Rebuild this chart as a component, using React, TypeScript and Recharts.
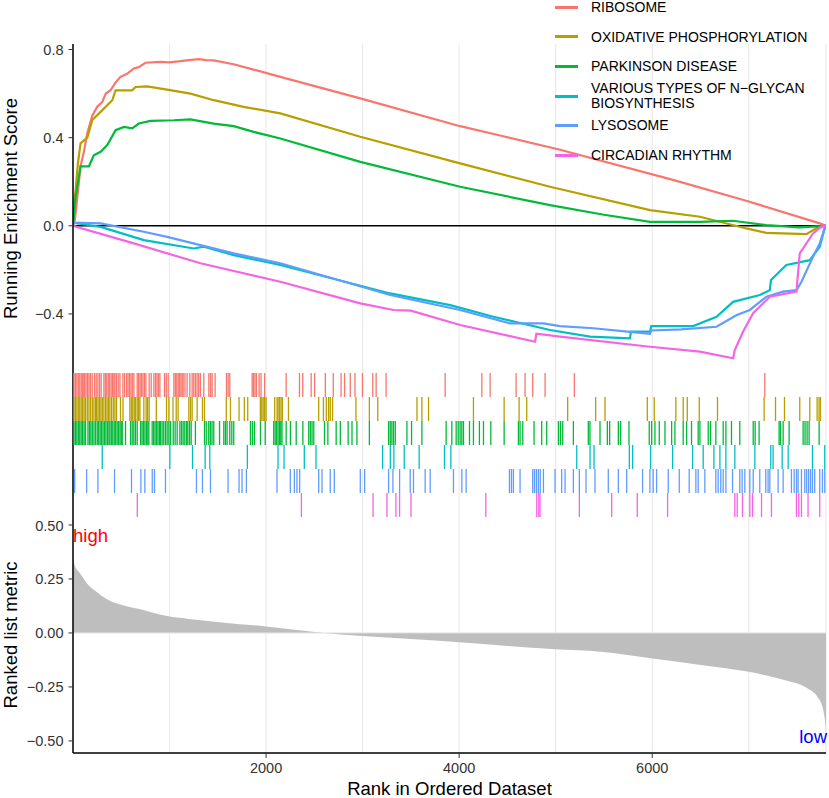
import React from 'react';
import {
  LineChart, Line, ScatterChart, Scatter, AreaChart, Area,
  XAxis, YAxis, CartesianGrid, ReferenceLine,
} from 'recharts';

const FONT = 'Liberation Sans, Arial, Helvetica, sans-serif';
const MINUS = '\u2212';

const pathways = [
  'RIBOSOME',
  'OXIDATIVE PHOSPHORYLATION',
  'PARKINSON DISEASE',
  `VARIOUS TYPES OF N${MINUS}GLYCAN\nBIOSYNTHESIS`,
  'LYSOSOME',
  'CIRCADIAN RHYTHM',
];
const colors = ['#F8766D', '#B79F00', '#00BA38', '#00BFC4', '#619CFF', '#F564E3'];

const gridRanks = [1000, 2000, 3000, 4000, 5000, 6000, 7000];
const rankTicks = [2000, 4000, 6000];
const esTicks = [-0.4, 0, 0.4, 0.8];
const metricTicks = [-0.5, -0.25, 0, 0.25, 0.5];

// running enrichment score, [rank, ES]
const ribosomeES = [
  [0, 0], [20, 0.03], [50, 0.15], [78, 0.27], [110, 0.33], [148, 0.42], [200, 0.5], [251, 0.54],
  [300, 0.56], [340, 0.6], [389, 0.615], [440, 0.65], [492, 0.676], [560, 0.69], [630, 0.714],
  [680, 0.72], [751, 0.74], [906, 0.744], [1000, 0.742], [1113, 0.747], [1200, 0.752], [1303, 0.756],
  [1380, 0.752], [1458, 0.751], [1664, 0.733], [1870, 0.709], [2148, 0.676], [2976, 0.578],
  [4010, 0.452], [4424, 0.41], [5045, 0.345], [6224, 0.207], [7000, 0.11], [7735, 0.011], [7800, 0],
];
const oxphosES = [
  [0, 0], [8, 0.1], [27, 0.16], [50, 0.28], [78, 0.374], [148, 0.4], [200, 0.48], [286, 0.517],
  [407, 0.57], [441, 0.615], [613, 0.615], [648, 0.63], [768, 0.633], [975, 0.618], [1217, 0.6],
  [1458, 0.57], [1768, 0.54], [2148, 0.51], [2976, 0.404], [4010, 0.283], [4941, 0.177],
  [5977, 0.071], [6494, 0.041], [6976, -0.012], [7183, -0.032], [7597, -0.038], [7717, -0.007], [7800, 0],
];
const parkinsonES = [
  [0, 0], [27, 0.13], [78, 0.27], [165, 0.27], [216, 0.32], [286, 0.336], [355, 0.366], [441, 0.434],
  [527, 0.449], [613, 0.442], [682, 0.464], [803, 0.476], [1044, 0.479], [1217, 0.483], [1458, 0.464],
  [1665, 0.452], [1872, 0.426], [2148, 0.396], [2976, 0.29], [4010, 0.177], [4941, 0.094],
  [5500, 0.05], [5977, 0.018], [6494, 0.018], [6835, 0.023], [7183, 0.003], [7528, -0.007], [7800, 0],
];
const nglycanES = [
  [0, 0.014], [286, -0.005], [734, -0.065], [1251, -0.103], [1355, -0.095], [1665, -0.133],
  [2148, -0.178], [3286, -0.307], [3907, -0.36], [4355, -0.413], [4941, -0.473], [5355, -0.503],
  [5769, -0.511], [5780, -0.48], [5977, -0.48], [5990, -0.455], [6424, -0.455], [6666, -0.413],
  [6838, -0.345], [7114, -0.314], [7218, -0.292], [7230, -0.246], [7390, -0.178], [7632, -0.156],
  [7735, -0.095], [7790, -0.005], [7800, 0],
];
const lysosomeES = [
  [0, 0.014], [286, 0.011], [734, -0.027], [976, -0.05], [1320, -0.088], [1665, -0.125],
  [2148, -0.17], [3286, -0.314], [4010, -0.382], [4528, -0.443], [4873, -0.443], [5045, -0.455],
  [5390, -0.465], [5769, -0.481], [5977, -0.49], [5990, -0.475], [6300, -0.47], [6666, -0.458],
  [6876, -0.405], [7011, -0.382], [7183, -0.322], [7355, -0.299], [7494, -0.292], [7546, -0.254],
  [7666, -0.14], [7735, -0.08], [7780, -0.02], [7800, 0],
];
const circadianES = [
  [0, 0], [630, -0.08], [1320, -0.17], [2148, -0.254], [2976, -0.352], [3320, -0.382], [3500, -0.385],
  [4010, -0.45], [4786, -0.526], [4800, -0.49], [5045, -0.503], [5977, -0.549], [6494, -0.571],
  [6838, -0.601], [6855, -0.564], [6942, -0.48], [7045, -0.397], [7218, -0.322], [7494, -0.299],
  [7528, -0.125], [7666, -0.035], [7760, 0], [7800, 0],
];
const runningES = [ribosomeES, oxphosES, parkinsonES, nglycanES, lysosomeES, circadianES];

// gene-set hit positions (rank)
const ribosomeHits = [10, 25, 40, 55, 70, 85, 96, 106, 120, 135, 150, 165, 180, 199, 223, 240, 258, 275, 292, 320, 335, 350, 365, 380, 395, 410, 424, 434, 450, 468, 486, 517, 534, 555, 570, 585, 600, 615, 631, 665, 680, 695, 710, 725, 740, 755, 789, 810, 838, 855, 870, 885, 900, 948, 966, 986, 1045, 1060, 1075, 1090, 1105, 1118, 1131, 1141, 1160, 1182, 1210, 1234, 1251, 1268, 1285, 1302, 1320, 1355, 1407, 1425, 1441, 1472, 1590, 1607, 1624, 1856, 1870, 1885, 1900, 1928, 1948, 1985, 2208, 2346, 2380, 2467, 2503, 2614, 2696, 2777, 2813, 2872, 2921, 2998, 3105, 3140, 3243, 3855, 4235, 4321, 4590, 4683, 4762, 4890, 5193, 7166];
const oxphosHits = [10, 25, 40, 55, 70, 85, 100, 115, 130, 148, 165, 182, 200, 217, 234, 244, 259, 274, 289, 304, 320, 337, 352, 367, 382, 399, 417, 434, 451, 492, 518, 589, 604, 619, 634, 648, 665, 680, 693, 734, 758, 773, 789, 863, 969, 993, 1036, 1069, 1089, 1200, 1217, 1234, 1286, 1341, 1362, 1588, 1631, 1720, 1775, 1810, 1941, 1955, 1970, 1985, 2000, 2089, 2114, 2124, 2140, 2155, 2169, 2232, 2545, 2594, 2624, 2648, 2665, 2689, 2931, 3070, 3157, 3563, 3614, 3683, 4148, 4466, 4621, 4700, 5124, 5414, 5511, 5949, 6021, 6245, 6321, 6363, 6487, 6676, 7159, 7277, 7370, 7528, 7632, 7708, 7728, 7742];
const parkinsonHits = [10, 25, 40, 55, 70, 85, 100, 115, 130, 155, 170, 185, 200, 217, 234, 251, 266, 281, 296, 311, 326, 341, 356, 372, 382, 397, 412, 427, 442, 457, 472, 487, 500, 510, 544, 596, 613, 630, 647, 665, 700, 715, 730, 745, 760, 775, 786, 820, 835, 850, 865, 880, 895, 906, 923, 940, 958, 975, 993, 1010, 1038, 1058, 1079, 1107, 1124, 1141, 1158, 1176, 1189, 1207, 1224, 1268, 1362, 1380, 1406, 1423, 1440, 1458, 1518, 1562, 1579, 1596, 1624, 1645, 1665, 1838, 1858, 1879, 1942, 1991, 2079, 2094, 2109, 2124, 2139, 2152, 2165, 2208, 2252, 2312, 2381, 2442, 2459, 2476, 2494, 2605, 2640, 2726, 2769, 2850, 2890, 2941, 3070, 3269, 3286, 3303, 3320, 3338, 3459, 3507, 3614, 3865, 3924, 3969, 3990, 4010, 4028, 4045, 4107, 4148, 4210, 4252, 4328, 4466, 4614, 4631, 4659, 4776, 4855, 4907, 5028, 5050, 5073, 5183, 5338, 5355, 5459, 5535, 5559, 5649, 5673, 5759, 5969, 5994, 6028, 6073, 6132, 6201, 6235, 6321, 6356, 6407, 6476, 6494, 6580, 6604, 6659, 6735, 6763, 6821, 6907, 7046, 7066, 7107, 7314, 7328, 7356, 7418, 7563, 7583, 7604, 7625, 7729];
const nglycanHits = [303, 1003, 1238, 1369, 1417, 1806, 2124, 2186, 2396, 2517, 3207, 3287, 3324, 3431, 3586, 3848, 3914, 5218, 5356, 5397, 5763, 5797, 5983, 6211, 6418, 6528, 6639, 6701, 6763, 6856, 7063, 7228, 7252, 7346, 7408, 7660, 7787];
const lysosomeHits = [17, 141, 258, 430, 606, 703, 744, 821, 844, 958, 1279, 1341, 1424, 1606, 1720, 1751, 1796, 2113, 2251, 2293, 2320, 2348, 2545, 2579, 2665, 2707, 2976, 3021, 3269, 3314, 3383, 3493, 3527, 3648, 3700, 3941, 4028, 4072, 4521, 4542, 4562, 4631, 4762, 4780, 4800, 4820, 4840, 4873, 4993, 5062, 5097, 5183, 5245, 5314, 5407, 5545, 5649, 5735, 5900, 5976, 6010, 6045, 6166, 6280, 6383, 6452, 6476, 6545, 6659, 6683, 6710, 6735, 6763, 6832, 6907, 6931, 6959, 7011, 7046, 7114, 7176, 7200, 7218, 7304, 7356, 7442, 7470, 7494, 7511, 7546, 7580, 7600, 7620, 7640, 7660, 7683, 7735, 7763, 7787];
const circadianHits = [666, 2366, 3108, 3252, 3345, 3383, 3501, 4276, 4804, 4825, 4838, 5245, 5580, 5845, 6159, 6856, 6880, 6935, 7011, 7039, 7132, 7235, 7494, 7518, 7546, 7614, 7735];
const hits = [ribosomeHits, oxphosHits, parkinsonHits, nglycanHits, lysosomeHits, circadianHits];

// ranked list metric, [rank, value]
const rankedMetric = [
  [0, 0.34], [20, 0.31], [71, 0.278], [154, 0.224], [236, 0.193], [346, 0.157], [450, 0.137],
  [565, 0.123], [675, 0.112], [800, 0.097], [1000, 0.076], [1200, 0.065], [1443, 0.053], [1700, 0.042],
  [2000, 0.03], [2320, 0.014], [2600, 0], [3000, -0.014], [3500, -0.028], [4000, -0.043], [4500, -0.06],
  [5000, -0.076], [5466, -0.087], [5984, -0.117], [6502, -0.148], [6985, -0.179], [7365, -0.218],
  [7606, -0.256], [7710, -0.295], [7762, -0.341], [7785, -0.39], [7796, -0.434], [7800, -0.495],
];

const X_DOMAIN = [0, 7800];
const W = 829;

const fmt = (d: number) => (v: number) => {
  const s = Math.abs(v).toFixed(d);
  return v < 0 ? MINUS + s : s;
};

const tickStyle = { fill: '#333', fontSize: 14.5, fontFamily: FONT };
const titleStyle = { textAnchor: 'middle' as const, fontSize: 18.5, fill: '#000', fontFamily: FONT };
const axisLine = { stroke: '#000', strokeWidth: 1.5 };
const gridStroke = '#EBEBEB';

const esSeries = runningES.map(pts => pts.map(([rank, es]) => ({ rank, es })));
const rugSeries = hits.map((h, i) => h.map(rank => ({ rank, row: 5.5 - i })));
const metricData = rankedMetric.map(([rank, value]) => ({ rank, value }));

const RugTick = (color: string) => (props: any) => (
  <line x1={props.cx} x2={props.cx} y1={props.cy - 12} y2={props.cy + 12} stroke={color} strokeWidth={1.3} />
);

// invisible tick so the axis still hands its ticks to the grid
const NoTick = () => <g />;

export default function App() {
  return (
    <div style={{ position: 'absolute', left: 0, top: 0, width: W, height: 798, fontFamily: FONT, background: '#fff' }}>
      <div style={{ position: 'absolute', left: 0, top: 0 }}>
        <LineChart width={W} height={373} margin={{ top: 44, right: 3, bottom: 0, left: 0 }}>
          <CartesianGrid horizontal={false} stroke={gridStroke} strokeWidth={1.2} />
          <XAxis type="number" dataKey="rank" domain={X_DOMAIN} ticks={gridRanks} interval={0} height={0}
            tick={NoTick} tickLine={false} axisLine={false} allowDataOverflow />
          <YAxis type="number" domain={[-0.668, 0.825]} ticks={esTicks} width={73} allowDataOverflow
            tickFormatter={fmt(1)} tick={tickStyle} tickSize={4.5} tickMargin={5}
            tickLine={{ stroke: '#333' }} axisLine={axisLine}
            label={{ value: 'Running Enrichment Score', angle: -90, position: 'insideLeft', offset: 10, style: titleStyle }} />
          <ReferenceLine y={0} stroke="#000" strokeWidth={1.5} />
          {esSeries.map((d, i) => (
            <Line key={i} data={d} dataKey="es" type="linear" stroke={colors[i]} strokeWidth={2.2}
              dot={false} isAnimationActive={false} />
          ))}
        </LineChart>
      </div>

      <div style={{ position: 'absolute', left: 0, top: 373 }}>
        <ScatterChart width={W} height={144} margin={{ top: 0, right: 3, bottom: 0, left: 0 }}>
          <CartesianGrid horizontal={false} stroke={gridStroke} strokeWidth={1.2} />
          <XAxis type="number" dataKey="rank" domain={X_DOMAIN} ticks={gridRanks} interval={0} height={0}
            tick={NoTick} tickLine={false} axisLine={false} allowDataOverflow />
          <YAxis type="number" dataKey="row" domain={[0, 6]} width={73} tick={false} tickLine={false} axisLine={axisLine} />
          {rugSeries.map((d, i) => (
            <Scatter key={i} data={d} shape={RugTick(colors[i])} isAnimationActive={false} />
          ))}
        </ScatterChart>
      </div>

      <div style={{ position: 'absolute', left: 0, top: 517 }}>
        <AreaChart width={W} height={281} data={metricData} margin={{ top: 0, right: 3, bottom: 0, left: 0 }}>
          <CartesianGrid horizontal={false} stroke={gridStroke} strokeWidth={1.2} xAxisId="grid" />
          <XAxis xAxisId="grid" orientation="top" type="number" dataKey="rank" domain={X_DOMAIN} ticks={gridRanks}
            interval={0} height={0} tick={NoTick} tickLine={false} axisLine={false} allowDataOverflow />
          <XAxis type="number" dataKey="rank" domain={X_DOMAIN} ticks={rankTicks} height={45} allowDataOverflow
            tick={tickStyle} tickSize={5} tickMargin={5} tickLine={{ stroke: '#333' }} axisLine={axisLine}
            label={{ value: 'Rank in Ordered Dataset', position: 'insideBottom', offset: 3, style: titleStyle }} />
          <YAxis type="number" domain={[-0.556, 0.537]} ticks={metricTicks} width={73} allowDataOverflow
            tickFormatter={fmt(2)} tick={tickStyle} tickSize={4.5} tickMargin={5}
            tickLine={{ stroke: '#333' }} axisLine={axisLine}
            label={{ value: 'Ranked list metric', angle: -90, position: 'insideLeft', offset: 10, style: titleStyle }} />
          <Area type="monotone" dataKey="value" baseValue={0} stroke="none" fill="#BEBEBE" fillOpacity={1}
            isAnimationActive={false} />
          <ReferenceLine y={0} stroke="#E2E2E2" strokeWidth={1} />
        </AreaChart>
      </div>

      <svg width={W} height={798} style={{ position: 'absolute', left: 0, top: 0, pointerEvents: 'none' }}>
        <text x={73} y={542} fill="#FF0000" fontSize={18.5} fontFamily={FONT}>high</text>
        <text x={827} y={743} fill="#0000FF" fontSize={18.5} fontFamily={FONT} textAnchor="end">low</text>
      </svg>

      <div style={{ position: 'absolute', left: 555, top: -7.5 }}>
        {pathways.map((name, i) => (
          <div key={name} style={{ height: 29.6, display: 'flex', alignItems: 'center' }}>
            <div style={{ width: 23, height: 3, background: colors[i], marginRight: 13 }} />
            <div style={{ fontSize: 14, lineHeight: '14.7px', whiteSpace: 'pre-line', color: '#000' }}>{name}</div>
          </div>
        ))}
      </div>
    </div>
  );
}
